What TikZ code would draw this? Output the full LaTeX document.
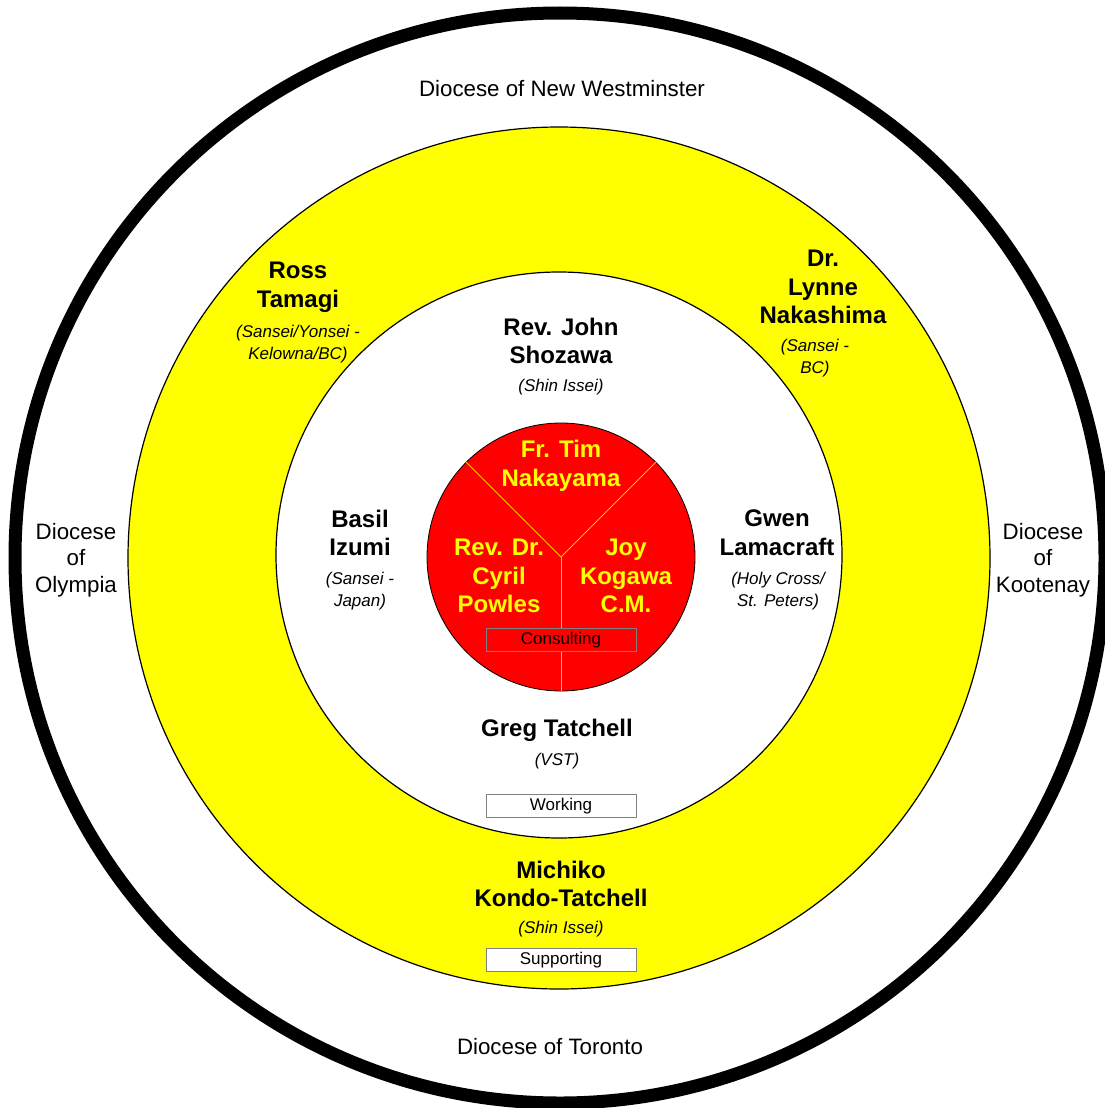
\documentclass[tikz,border=0pt]{standalone}
\usepackage{fontspec}
\setmainfont{Liberation Sans}
\definecolor{hubred}{RGB}{255,0,0}
\definecolor{ringyellow}{RGB}{255,255,0}
\definecolor{spoke}{RGB}{255,192,0}
\definecolor{boxgray}{RGB}{128,128,128}
\usetikzlibrary{positioning}

\begin{document}
\begin{tikzpicture}[x=1pt, y=-1pt,
  ring/.style={circle, draw, inner sep=0pt, line width=1.2pt},
  nm/.style={align=center, font=\fontsize{24}{28.8}\selectfont\bfseries},
  sub/.style={align=center, font=\fontsize{17}{21.5}\selectfont\itshape},
  dio/.style={align=center, font=\fontsize{22.3}{26.5}\selectfont},
  bx/.style={draw=boxgray, line width=0.8pt, minimum width=150pt, minimum height=23pt,
    inner sep=0pt, font=\fontsize{17}{20}\selectfont}]
\useasboundingbox (0,0) rectangle (1105,1108);
% Rings
\node[ring, line width=13pt, minimum size=1090pt] (outer) at (560,558) {};
\node[ring, fill=ringyellow, minimum size=862pt] (yel) at (559,558) {};
\node[ring, fill=white, minimum size=566pt] (inner) at (559,555) {};
\node[ring, fill=hubred, line width=0.8pt, minimum size=268pt] (hub) at (561,557) {};
% Spokes
\draw[spoke, line width=1pt] (hub.center) -- (hub.135);
\draw[spoke, line width=1pt] (hub.center) -- (hub.45);
\draw[spoke, line width=1pt] (hub.center) -- (hub.270);
% Dioceses
\node[dio] (newwest) at (562,89) {Diocese of New Westminster};
\node[dio] (toronto) at (550,1047) {Diocese of Toronto};
\node[dio] (olympia) at (76,560) {Diocese\\of\\Olympia};
\node[dio] (kootenay) at (1043,560) {Diocese\\of\\Kootenay};
% Supporting ring
\node[nm] (ross) at (298,287) {Ross\\Tamagi};
\node[sub] (rossnote) at (298,344) {(Sansei/Yonsei -\\Kelowna/BC)};
\node[nm] (lynne) at (823,287) {Dr.\\Lynne\\Nakashima};
\node[sub] (lynnenote) at (815,358) {(Sansei -\\BC)};
\node[nm] (michiko) at (561,884) {Michiko\\Kondo-Tatchell};
\node[sub] (michikonote) at (561,929) {(Shin Issei)};
\node[bx, fill=white] (supporting) at (561,960) {Supporting};
% Working ring
\node[nm] (john) at (561,341) {Rev. John\\Shozawa};
\node[sub] (johnnote) at (561,387) {(Shin Issei)};
\node[nm] (basil) at (360,533) {Basil\\Izumi};
\node[sub] (basilnote) at (360,591) {(Sansei -\\Japan)};
\node[nm] (gwen) at (777,533) {Gwen\\Lamacraft};
\node[sub] (gwennote) at (778,591) {(Holy Cross/\\St. Peters)};
\node[nm] (greg) at (557,730) {Greg Tatchell};
\node[sub] (gregnote) at (557,761) {(VST)};
\node[bx, fill=white] (working) at (561,806) {Working};
% Consulting core
\node[nm, ringyellow] (tim) at (561,466) {Fr. Tim\\Nakayama};
\node[nm, ringyellow] (cyril) at (499,576) {Rev. Dr.\\Cyril\\Powles};
\node[nm, ringyellow] (joy) at (626,576) {Joy\\Kogawa\\C.M.};
\node[bx, fill=hubred] (consulting) at (561,640) {Consulting};
\end{tikzpicture}
\end{document}
